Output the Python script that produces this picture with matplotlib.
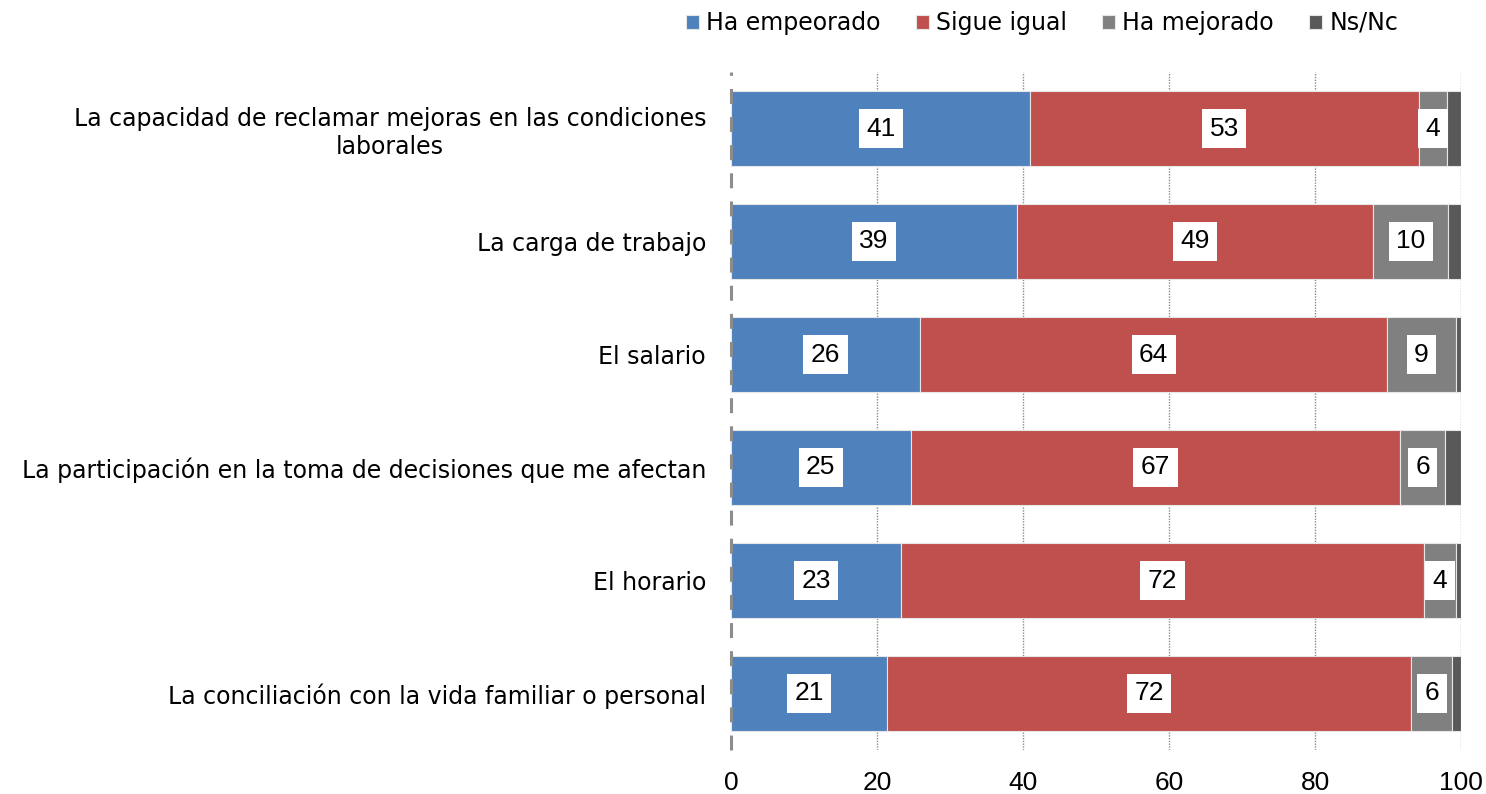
import matplotlib
matplotlib.use("Agg")
import matplotlib.pyplot as plt
import numpy as np

# ---- data ----
categories = [
    "La capacidad de reclamar mejoras en las condiciones\nlaborales",
    "La carga de trabajo",
    "El salario",
    "La participación en la toma de decisiones que me afectan",
    "El horario",
    "La conciliación con la vida familiar o personal",
]
series_names = ["Ha empeorado", "Sigue igual", "Ha mejorado", "Ns/Nc"]
empeorado = [41.0, 39.2, 25.9, 24.6, 23.3, 21.4]
igual = [53.2, 48.8, 64.0, 67.1, 71.6, 71.8]
mejorado = [3.9, 10.2, 9.4, 6.1, 4.4, 5.6]
nsnc = [1.9, 1.8, 0.7, 2.2, 0.7, 1.2]
x_ticks = [0, 20, 40, 60, 80, 100]

colors = ["#4F81BD", "#C0504D", "#808080", "#595959"]
labelled = [True, True, True, False]

plt.rcParams["font.family"] = ["Liberation Sans", "DejaVu Sans"]
text_font = ["DejaVu Sans"]

fig = plt.figure(figsize=(14.86, 7.94), dpi=100)
ax = fig.add_axes([731 / 1486, 1 - 750 / 794, 730 / 1486, 678 / 794])

y = np.arange(len(categories))
left = np.zeros(len(categories))
for name, vals, col, lab in zip(series_names, [empeorado, igual, mejorado, nsnc], colors, labelled):
    vals = np.array(vals)
    ax.barh(y, vals, left=left, height=0.665, color=col, edgecolor="#e6e6e6",
            linewidth=0.8, label=name, zorder=3)
    if lab:
        for yi, l, v in zip(y, left, vals):
            ax.text(l + v / 2, yi, f"{round(v):d}", ha="center", va="center",
                    fontsize=19, color="black", zorder=5,
                    bbox=dict(boxstyle="square,pad=0.28", fc="white", ec="none"))
    left = left + vals

ax.set_xlim(0, 100)
ax.set_ylim(len(categories) - 0.5, -0.5)
ax.set_yticks(y)
ax.set_yticklabels(categories, fontsize=17, multialignment="center", family=text_font)
ax.set_xticks(x_ticks)
ax.set_xticklabels([str(t) for t in x_ticks], fontsize=19)
ax.tick_params(axis="both", length=0)
ax.tick_params(axis="y", pad=18)
ax.tick_params(axis="x", pad=15)

for s in ["top", "right", "bottom", "left"]:
    ax.spines[s].set_visible(False)

# dotted gridlines and dashed zero axis
for t in x_ticks[1:]:
    ax.axvline(t, color="#8c8c8c", linestyle=(0, (1, 1)), linewidth=1.0, zorder=1)
ax.axvline(0, color="#8c8c8c", linestyle=(0, (4.9, 4.3)), linewidth=2.2, zorder=6,
           clip_on=False)

fig.legend(loc="center", bbox_to_anchor=(1042 / 1486, 1 - 23 / 794), ncol=4,
           frameon=False, prop={"family": text_font, "size": 17},
           handlelength=0.55, handleheight=0.55, handletextpad=0.3, columnspacing=1.5)

fig.savefig("out.png", dpi=100)
